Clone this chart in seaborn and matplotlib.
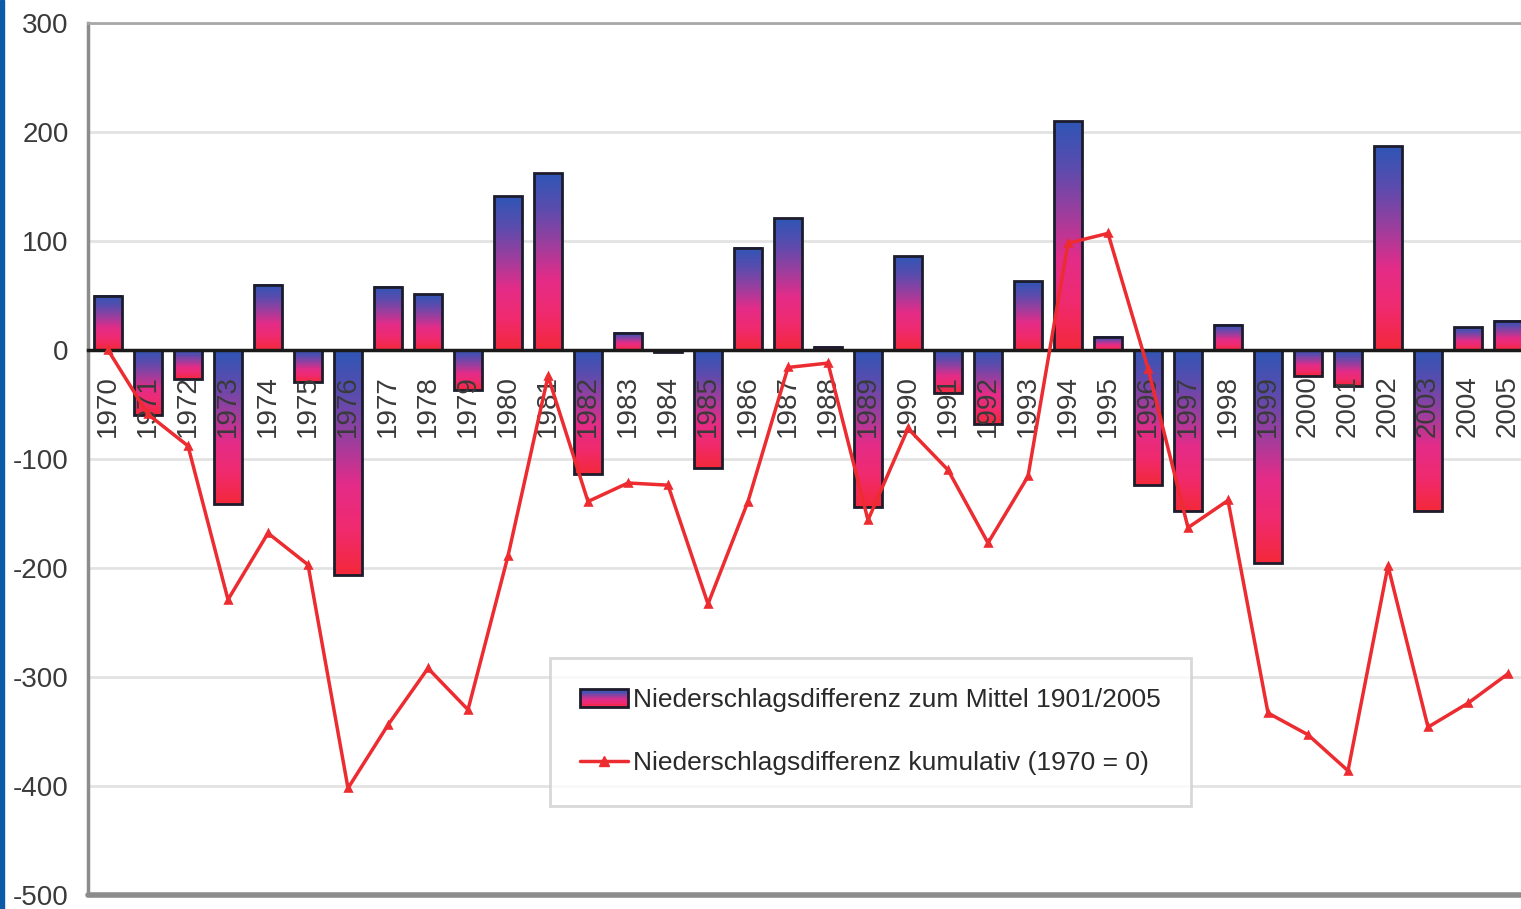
import matplotlib
matplotlib.use("Agg")
import matplotlib.pyplot as plt
from matplotlib.colors import LinearSegmentedColormap
from matplotlib.legend_handler import HandlerBase
from matplotlib.patches import Rectangle
from matplotlib.lines import Line2D
import numpy as np
import seaborn as sns

# data
years = [str(y) for y in range(1970, 2006)]
diff = [50, -60, -27, -141, 60, -29, -206, 58, 51, -37,
        141, 162, -114, 16, -2, -108, 94, 121, 3, -144,
        86, -39, -68, 63, 210, 12, -124, -148, 23, -195,
        -24, -33, 187, -148, 21, 27]
cumul = [0, -59, -88, -229, -168, -197, -402, -344, -292, -330,
         -189, -24, -139, -122, -124, -233, -139, -16, -12, -156,
         -72, -110, -177, -116, 98, 107, -17, -163, -138, -333,
         -353, -386, -198, -346, -324, -297]
label_bar = "Niederschlagsdifferenz zum Mittel 1901/2005"
label_line = "Niederschlagsdifferenz kumulativ (1970 = 0)"

sns.set_style("white")
plt.rcParams["font.family"] = ["Liberation Sans", "DejaVu Sans"]
plt.rcParams["axes.unicode_minus"] = False

grad_cmap = LinearSegmentedColormap.from_list(
    "rb", ["#f4283a", "#f02a6e", "#e42c88", "#9c3e9e", "#5a4cae", "#2f56b6"])


class GradientPatch(Rectangle):
    pass


class GradientHandler(HandlerBase):
    def create_artists(self, legend, orig_handle, xdescent, ydescent,
                       width, height, fontsize, trans):
        arts = []
        n = 10
        for k in range(n):
            r = Rectangle((-xdescent, -ydescent + height * k / n), width, height / n,
                          facecolor=grad_cmap(k / (n - 1)), edgecolor="none", transform=trans)
            arts.append(r)
        arts.append(Rectangle((-xdescent, -ydescent), width, height, facecolor="none",
                              edgecolor="#1c1c2c", lw=2, transform=trans))
        return arts


fig = plt.figure(figsize=(15.21, 9.09), dpi=100)
ax = fig.add_axes([88 / 1521, 14 / 909, 1440 / 1521, 872 / 909])

sns.barplot(x=years, y=diff, ax=ax, width=0.7, color="#8040a0")
grad = np.linspace(0, 1, 256).reshape(-1, 1)
for p in ax.patches:
    x, w = p.get_x(), p.get_width()
    lo = min(p.get_y(), p.get_y() + p.get_height())
    hi = max(p.get_y(), p.get_y() + p.get_height())
    ax.imshow(grad, extent=(x, x + w, lo, hi), origin="lower", cmap=grad_cmap,
              aspect="auto", zorder=2, interpolation="bilinear")
    p.set_facecolor("none")
    p.set_edgecolor("#1c1c2c")
    p.set_linewidth(2)
    p.set_zorder(3)

sns.pointplot(x=years, y=cumul, ax=ax, color="#ec2c30", markers="^",
              markersize=5, linewidth=2.5)
for ln in ax.lines:
    ln.set_zorder(6)

ax.set_xlim(-0.5, len(years) - 0.5)
ax.set_ylim(-500, 300)
ax.set_yticks(range(-500, 301, 100))
ax.set_xlabel("")
ax.set_ylabel("")
ax.yaxis.grid(True, color="#e3e3e3", lw=2)
ax.set_axisbelow(True)
# category labels sit on top of the bars, as in the original
ax.xaxis.set_zorder(5)

ax.spines["right"].set_visible(False)
ax.spines["left"].set_color("#8c8c8c")
ax.spines["left"].set_linewidth(2.5)
ax.spines["top"].set_color("#a8a8a8")
ax.spines["top"].set_linewidth(2)
ax.spines["bottom"].set_position(("data", 0))
ax.spines["bottom"].set_color("#1a1a1a")
ax.spines["bottom"].set_linewidth(2.5)
ax.spines["bottom"].set_zorder(4)
ax.axhline(-500, color="#8c8c8c", lw=4, clip_on=False, zorder=4)

ax.set_xticks(np.arange(-0.5, len(years), 1), minor=True)
ax.tick_params(axis="x", which="major", length=0, pad=18, labelrotation=90,
               labelsize=20, labelcolor="#3a3a3a")
ax.tick_params(axis="x", which="minor", length=16, width=2, direction="inout",
               color="#4a4a4a")
ax.tick_params(axis="y", length=8, width=2, color="#d8d8d8", pad=6,
               labelsize=20, labelcolor="#3a3a3a")

handles = [GradientPatch((0, 0), 1, 1),
           Line2D([], [], color="#ec2c30", marker="^", markersize=7, lw=2.5)]
leg = ax.legend(handles, [label_bar, label_line], loc="upper left",
                bbox_to_anchor=(550 / 1521, 1 - 658 / 909), bbox_transform=fig.transFigure,
                borderaxespad=0, fontsize=19, frameon=True, fancybox=False,
                edgecolor="#cfcfcf", handlelength=1.8, labelspacing=1.48,
                borderpad=1.15, handletextpad=0.2,
                handler_map={GradientPatch: GradientHandler()})
leg.get_frame().set_linewidth(2)
for t in leg.get_texts():
    t.set_color("#2a2a2a")

fig.add_artist(Rectangle((0, 0), 4 / 1521, 1, transform=fig.transFigure,
                         color="#0d5aa7"))

fig.savefig("out.png", dpi=100)
